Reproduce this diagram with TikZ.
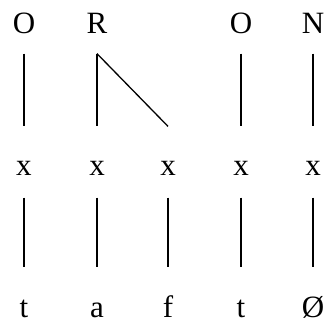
\documentclass[tikz,border=0pt]{standalone}
\usepackage{fontspec}
\setmainfont{Liberation Serif}

\begin{document}
\begin{tikzpicture}[x=1pt,y=-1pt,
    every node/.style={inner sep=0pt, anchor=base, font=\fontsize{31}{31}\selectfont},
    tier/.style={text height=20pt, text depth=20pt},
    slot/.style={text height=48pt, text depth=22pt},
    seg/.style={text height=49pt, text depth=0pt},
    every path/.style={line width=1.3pt}]
    \useasboundingbox (0,0) rectangle (327,325);
    \node[tier] (O1) at (24,33) {O}; \node[tier] (R) at (97,33)
    {R}; \node[tier] (O2) at (241,33) {O}; \node[tier] (N) at (313,33)
    {N};
    \node[slot] (x1) at (24,175) {x}; \node[slot] (x2) at (97,175)
    {x}; \node[slot] (x3) at (168,175) {x}; \node[slot] (x4) at (241,175)
    {x}; \node[slot] (x5) at (313,175) {x};
    \node[seg] (t1) at (24,317) {t}; \node[seg] (a) at (97,317)
    {a}; \node[seg] (f) at (168,317) {f}; \node[seg] (t2) at (241,317)
    {t}; \node[seg] (null) at (313,317) {Ø};
    \draw (O1) -- (x1); \draw (R.south) -- (x2.north); \draw (R.south) -- (x3.north);
    \draw (O2) -- (x4); \draw (N) -- (x5);
    \draw (x1) -- (t1); \draw (x2) -- (a); \draw (x3) -- (f);
    \draw (x4) -- (t2); \draw (x5) -- (null);
  \end{tikzpicture}
\end{document}
